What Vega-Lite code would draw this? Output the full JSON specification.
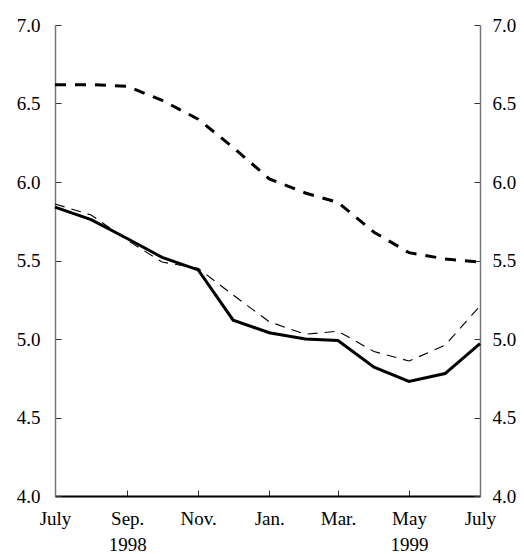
{
  "$schema": "https://vega.github.io/schema/vega-lite/v6.json",
  "width": 425,
  "height": 471,
  "autosize": {"type": "none"},
  "padding": {"left": 55, "top": 25, "right": 44, "bottom": 58},
  "background": "white",
  "config": {
    "view": {"stroke": null},
    "axis": {
      "labelFont": "Liberation Serif",
      "labelFontSize": 19,
      "labelColor": "black",
      "grid": false,
      "title": null,
      "tickColor": "#333",
      "tickWidth": 1
    }
  },
  "data": {
    "values": [
      {"date": "1998-07-01", "series": "solid", "value": 5.84},
      {"date": "1998-08-01", "series": "solid", "value": 5.76},
      {"date": "1998-09-01", "series": "solid", "value": 5.64},
      {"date": "1998-10-01", "series": "solid", "value": 5.52},
      {"date": "1998-11-01", "series": "solid", "value": 5.44},
      {"date": "1998-12-01", "series": "solid", "value": 5.12},
      {"date": "1999-01-01", "series": "solid", "value": 5.04},
      {"date": "1999-02-01", "series": "solid", "value": 5.00},
      {"date": "1999-03-01", "series": "solid", "value": 4.99},
      {"date": "1999-04-01", "series": "solid", "value": 4.82},
      {"date": "1999-05-01", "series": "solid", "value": 4.73},
      {"date": "1999-06-01", "series": "solid", "value": 4.78},
      {"date": "1999-07-01", "series": "solid", "value": 4.97},
      {"date": "1998-07-01", "series": "thick", "value": 6.62},
      {"date": "1998-08-01", "series": "thick", "value": 6.62},
      {"date": "1998-09-01", "series": "thick", "value": 6.61},
      {"date": "1998-10-01", "series": "thick", "value": 6.52},
      {"date": "1998-11-01", "series": "thick", "value": 6.40},
      {"date": "1998-12-01", "series": "thick", "value": 6.22},
      {"date": "1999-01-01", "series": "thick", "value": 6.02},
      {"date": "1999-02-01", "series": "thick", "value": 5.93},
      {"date": "1999-03-01", "series": "thick", "value": 5.87},
      {"date": "1999-04-01", "series": "thick", "value": 5.68},
      {"date": "1999-05-01", "series": "thick", "value": 5.55},
      {"date": "1999-06-01", "series": "thick", "value": 5.51},
      {"date": "1999-07-01", "series": "thick", "value": 5.49},
      {"date": "1998-07-01", "series": "thin", "value": 5.86},
      {"date": "1998-08-01", "series": "thin", "value": 5.79},
      {"date": "1998-09-01", "series": "thin", "value": 5.63},
      {"date": "1998-10-01", "series": "thin", "value": 5.49},
      {"date": "1998-11-01", "series": "thin", "value": 5.45},
      {"date": "1998-12-01", "series": "thin", "value": 5.28},
      {"date": "1999-01-01", "series": "thin", "value": 5.11},
      {"date": "1999-02-01", "series": "thin", "value": 5.03},
      {"date": "1999-03-01", "series": "thin", "value": 5.05},
      {"date": "1999-04-01", "series": "thin", "value": 4.92},
      {"date": "1999-05-01", "series": "thin", "value": 4.86},
      {"date": "1999-06-01", "series": "thin", "value": 4.96},
      {"date": "1999-07-01", "series": "thin", "value": 5.21}
    ]
  },
  "layer": [
    {
      "transform": [{"filter": "datum.series == 'thin'"}],
      "mark": {"type": "line", "color": "black", "strokeWidth": 1.1, "strokeDash": [10, 7], "strokeCap": "butt"},
      "encoding": {
        "x": {
          "field": "date",
          "type": "temporal",
          "scale": {"type": "utc", "domain": [{"year": 1998, "month": 7, "date": 1, "utc": true}, {"year": 1999, "month": 7, "date": 1, "utc": true}]},
          "axis": {
            "values": [
              {"year": 1998, "month": 7, "date": 1, "utc": true},
              {"year": 1998, "month": 9, "date": 1, "utc": true},
              {"year": 1998, "month": 11, "date": 1, "utc": true},
              {"year": 1999, "month": 1, "date": 1, "utc": true},
              {"year": 1999, "month": 3, "date": 1, "utc": true},
              {"year": 1999, "month": 5, "date": 1, "utc": true},
              {"year": 1999, "month": 7, "date": 1, "utc": true}
            ],
            "labelExpr": "utcmonth(datum.value) == 6 ? 'July' : utcmonth(datum.value) == 8 ? ['Sep.', '1998'] : utcmonth(datum.value) == 10 ? 'Nov.' : utcmonth(datum.value) == 0 ? 'Jan.' : utcmonth(datum.value) == 2 ? 'Mar.' : ['May', '1999']",
            "labelFlush": false,
            "labelOverlap": false,
            "labelLineHeight": 26,
            "tickSize": -6,
            "labelPadding": 19,
            "domainColor": "black",
            "domainWidth": 2
          }
        },
        "y": {
          "field": "value",
          "type": "quantitative",
          "scale": {"domain": [4, 7], "zero": false, "nice": false},
          "axis": {
            "values": [4, 4.5, 5, 5.5, 6, 6.5, 7],
            "format": ".1f",
            "tickSize": -6,
            "labelPadding": 21,
            "domainColor": "#777",
            "domainWidth": 1.5,
            "labelFlush": false
          }
        }
      }
    },
    {
      "transform": [{"filter": "datum.series == 'thick'"}],
      "mark": {"type": "line", "color": "black", "strokeWidth": 3, "strokeDash": [11, 9], "strokeCap": "butt"},
      "encoding": {
        "x": {"field": "date", "type": "temporal"},
        "y": {"field": "value", "type": "quantitative", "scale": {"domain": [4, 7], "zero": false, "nice": false}, "axis": null}
      }
    },
    {
      "transform": [{"filter": "datum.series == 'solid'"}],
      "mark": {"type": "line", "color": "black", "strokeWidth": 3, "strokeJoin": "miter"},
      "encoding": {
        "x": {"field": "date", "type": "temporal"},
        "y": {"field": "value", "type": "quantitative", "scale": {"domain": [4, 7], "zero": false, "nice": false}, "axis": null}
      }
    },
    {
      "mark": {"type": "line", "opacity": 0},
      "encoding": {
        "x": {"field": "date", "type": "temporal"},
        "y": {
          "field": "value",
          "type": "quantitative",
          "scale": {"domain": [4, 7], "zero": false, "nice": false},
          "axis": {
            "orient": "right",
            "values": [4, 4.5, 5, 5.5, 6, 6.5, 7],
            "format": ".1f",
            "tickSize": -6,
            "labelPadding": 18,
            "domainColor": "#777",
            "domainWidth": 1.5,
            "labelFlush": false
          }
        },
        "detail": {"field": "series", "type": "nominal"}
      }
    }
  ],
  "resolve": {"scale": {"y": "independent"}}
}
